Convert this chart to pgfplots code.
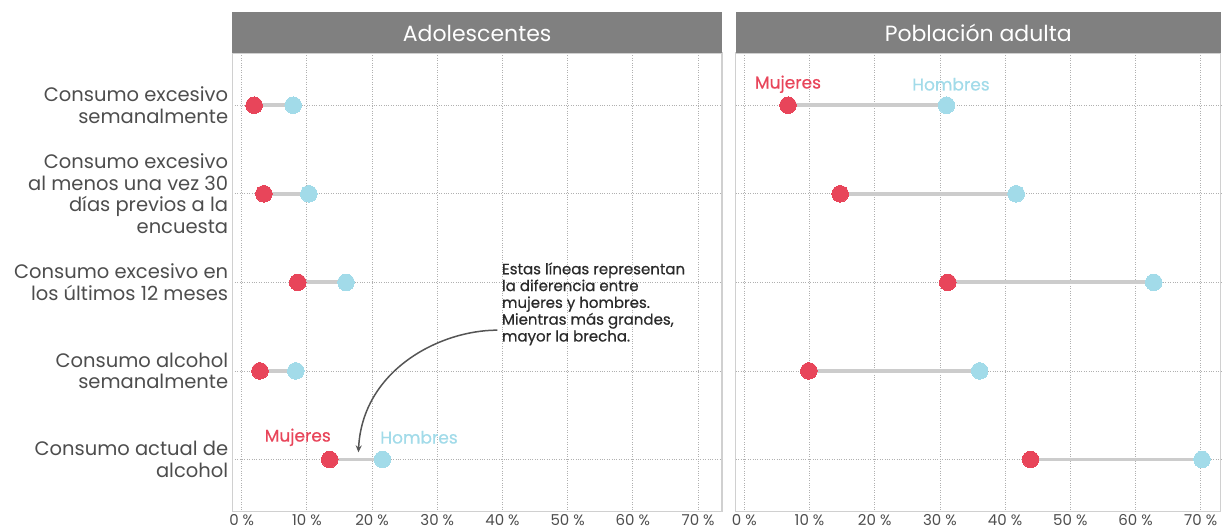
\documentclass[border=0pt]{standalone}
\usepackage{pgfplots}
\pgfplotsset{compat=1.18}
\usepackage{pgfplotstable}
\usepackage{fontspec}
\setmainfont{Poppins}
\newfontfamily\medfont[FakeBold=0.6]{Poppins}
\usetikzlibrary{arrows.meta}
\definecolor{mred}{HTML}{E8455A}
\definecolor{hblue}{HTML}{A2DBE9}
\definecolor{segc}{HTML}{CCCCCC}
\definecolor{stripc}{HTML}{808080}
\definecolor{txt}{HTML}{4D4D4D}
\definecolor{gridc}{HTML}{B0B0B0}
\definecolor{framec}{HTML}{D0D0D0}
\definecolor{annot}{HTML}{2A2A2A}
\definecolor{arrowc}{HTML}{555555}

\pgfplotstableread{
row m h
1 1.9 7.9
2 3.4 10.3
3 8.6 16.0
4 2.8 8.3
5 13.5 21.6
}\adol
\pgfplotstableread{
row m h
1 6.7 31.0
2 14.7 41.7
3 31.2 62.8
4 9.9 36.1
5 43.9 70.2
}\adult

\pgfplotsset{
 panel/.style={
  scale only axis, height=458.7pt, y dir=reverse, ymin=0.41, ymax=5.59,
  ytick={1,...,5}, xtick={0,10,...,70},
  xticklabels={0 \%,10 \%,20 \%,30 \%,40 \%,50 \%,60 \%,70 \%},
  major tick length=0pt,
  grid=major,
  major grid style={dotted, gridc, line width=0.8pt},
  axis line style={framec, line width=1.3pt},
  tick label style={text=txt},
  xticklabel style={font=\fontsize{15}{18}\selectfont, inner sep=0pt, yshift=-3pt},
  yticklabel style={align=right, font=\fontsize{19.5}{21.5}\selectfont, inner sep=0pt, xshift=-4pt},
  clip=false,
  anchor=south west,
 },
 segline/.style={segc, line width=3.7pt, forget plot},
 mw/.style={only marks, color=mred, mark=*, mark size=8.3pt, mark options={solid, draw=mred, fill=mred, line width=0pt}},
 hm/.style={only marks, color=hblue, mark=*, mark size=8.3pt, mark options={solid, draw=hblue, fill=hblue, line width=0pt}},
}

\begin{document}
\begin{tikzpicture}
\begin{axis}[panel, name=left, at={(232.3pt,17.3pt)}, width=489.7pt,
  xmin=-1.44, xmax=73.67,
  yticklabels={{Consumo excesivo\\semanalmente},{Consumo excesivo\\al menos una vez 30\\días previos a la\\encuesta},{Consumo excesivo en\\los últimos 12 meses},{Consumo alcohol\\semanalmente},{Consumo actual de\\alcohol}}]
\addplot[segline] coordinates {(1.9,1) (7.9,1)};
\addplot[segline] coordinates {(3.4,2) (10.3,2)};
\addplot[segline] coordinates {(8.6,3) (16.0,3)};
\addplot[segline] coordinates {(2.8,4) (8.3,4)};
\addplot[segline] coordinates {(13.5,5) (21.6,5)};
\addplot[mw] table[x=m, y=row] {\adol};
\addplot[hm] table[x=h, y=row] {\adol};
\node[text=mred, font=\medfont\fontsize{17}{19}\selectfont] at (axis cs:8.6,4.75) {Mujeres};
\node[text=hblue, font=\medfont\fontsize{17}{19}\selectfont] at (axis cs:27.2,4.75) {Hombres};
\node[anchor=north west, align=left, inner sep=0pt, text=annot, font=\medfont\fontsize{15}{16.8}\selectfont] at (axis cs:39.9,2.774)
 {Estas líneas representan\\la diferencia entre\\mujeres y hombres.\\Mientras más grandes,\\mayor la brecha.};
\draw[arrowc, line width=1.5pt, -{Stealth[length=7pt,width=6pt]}] (axis cs:39.2,3.54) .. controls (axis cs:30.4,3.54) and (axis cs:18.5,3.99) .. (axis cs:17.9,4.92);
\end{axis}
\fill[stripc] (left.north west) rectangle ([yshift=40.5pt]left.north east);
\node[white, font=\fontsize{22}{25}\selectfont] at ([yshift=20pt]left.north) {Adolescentes};

\begin{axis}[panel, name=right, at={(735.7pt,17.3pt)}, width=485pt,
  xmin=-1.32, xmax=73.07, yticklabels={}]
\addplot[segline] coordinates {(6.7,1) (31.0,1)};
\addplot[segline] coordinates {(14.7,2) (41.7,2)};
\addplot[segline] coordinates {(31.2,3) (62.8,3)};
\addplot[segline] coordinates {(9.9,4) (36.1,4)};
\addplot[segline] coordinates {(43.9,5) (70.2,5)};
\addplot[mw] table[x=m, y=row] {\adult};
\addplot[hm] table[x=h, y=row] {\adult};
\node[text=mred, font=\medfont\fontsize{17}{19}\selectfont] at (axis cs:6.7,0.763) {Mujeres};
\node[text=hblue, font=\medfont\fontsize{17}{19}\selectfont] at (axis cs:31.7,0.763) {Hombres};
\end{axis}
\fill[stripc] (right.north west) rectangle ([yshift=40.5pt]right.north east);
\node[white, font=\fontsize{22}{25}\selectfont] at ([yshift=20pt]right.north) {Población adulta};

\pgfresetboundingbox
\path[use as bounding box] (0,0) rectangle (1222pt,529pt);
\end{tikzpicture}
\end{document}
